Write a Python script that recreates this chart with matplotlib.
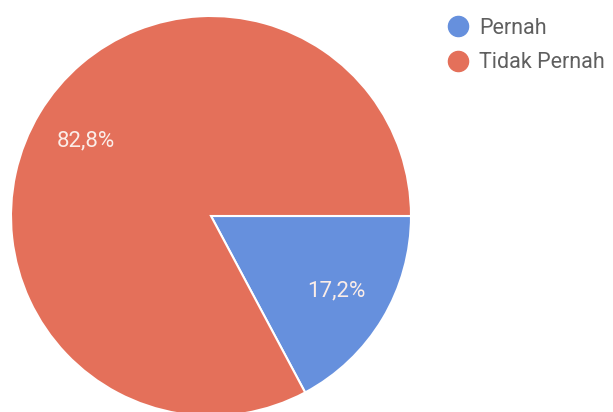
import matplotlib.pyplot as plt
from matplotlib.lines import Line2D

# data
labels = ['Pernah', 'Tidak Pernah']
values = [17.2, 82.8]
colors = ['#6690DD', '#E4705A']

plt.rcParams['font.family'] = ['Roboto', 'DejaVu Sans']

fig = plt.figure(figsize=(6.13, 4.12), dpi=100)
# pie area: center ~ (211, 216) px, radius 200 px
ax = fig.add_axes([11 / 613, -4 / 412, 400 / 613, 400 / 412])

wedges, texts, autotexts = ax.pie(
    values, colors=colors, startangle=0, counterclock=False,
    autopct=lambda p: f'{p:.1f}%'.replace('.', ','), pctdistance=0.73,
    wedgeprops=dict(edgecolor='white', linewidth=1.5),
    textprops=dict(color='#FBEDE8', fontsize=16))
ax.set_xlim(-1, 1)
ax.set_ylim(-1, 1)
ax.set_aspect('equal')

handles = [Line2D([], [], marker='o', linestyle='', markersize=14.5,
                  markerfacecolor=c, markeredgecolor=c) for c in colors]
fig.legend(handles, labels, loc='upper left', bbox_to_anchor=(447 / 613, 1 - 18 / 412),
           frameon=False, fontsize=15.5, labelcolor='#5f5f5f',
           handlelength=1.0, handletextpad=0.5, labelspacing=0.62,
           borderpad=0, borderaxespad=0)

fig.savefig('out.png', dpi=100)
